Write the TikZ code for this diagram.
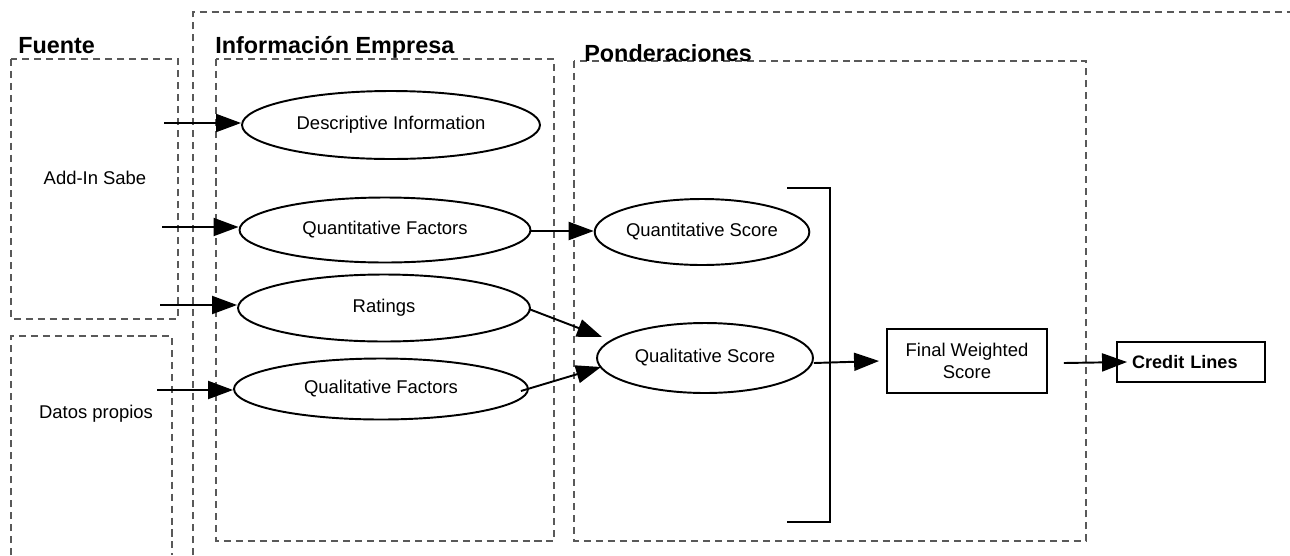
\documentclass[tikz,border=0pt]{standalone}
\usepackage{fontspec}
\setmainfont{Liberation Sans}
\usetikzlibrary{shapes.geometric,arrows.meta,calc}
\begin{document}
\begin{tikzpicture}[x=0.02cm,y=-0.02cm,
  dbox/.style={draw=black!65,line width=0.6pt,dash pattern=on 4pt off 2.8pt},
  ell/.style={ellipse,draw,line width=1.1pt,inner sep=0pt,font=\fontsize{10.5}{12}\selectfont},
  rbox/.style={rectangle,draw,line width=1.1pt,inner sep=0pt},
  lbl/.style={font=\fontsize{10.5}{12.5}\selectfont,inner sep=0pt},
  title/.style={font=\bfseries\fontsize{13.3}{15}\selectfont,inner sep=0pt,anchor=base west},
  arr/.style={line width=1.1pt,-{Triangle[length=0.5cm,width=0.36cm]}}]
\useasboundingbox (0,0) rectangle (1290,555);
% dashed frames
\draw[dbox] (193,555) -- (193,12) -- (1290,12);
\draw[dbox] (11,59) rectangle (178,319);
\draw[dbox] (11,555) -- (11,336) -- (172,336) -- (172,555);
\draw[dbox] (216,59) rectangle (554,541);
\draw[dbox] (574,61) rectangle (1086,541);
% titles
\node[title] (tf) at (18,53) {Fuente};
\node[title] (ti) at (215,53) {Información Empresa};
\node[title] (tp) at (584,61) {Ponderaciones};
% source labels
\node[lbl] (sabe) at (95,178) {Add-In Sabe};
\node[lbl] (datos) at (96,414) {Datos propios};
% ellipses
\node[ell,minimum width=5.96cm,minimum height=1.36cm] (desc) at (391,125) {\raisebox{-3pt}{Descriptive Information}};
\node[ell,minimum width=5.82cm,minimum height=1.30cm] (qf) at (385,230) {\raisebox{-3pt}{Quantitative Factors}};
\node[ell,minimum width=5.84cm,minimum height=1.34cm] (rat) at (384,308) {Ratings};
\node[ell,minimum width=5.88cm,minimum height=1.22cm] (qlf) at (381,389) {Qualitative Factors};
\node[ell,minimum width=4.06cm,minimum height=1.32cm] (qs) at (702,232) {Quantitative Score};
\node[ell,minimum width=4.32cm,minimum height=1.40cm] (qls) at (705,358) {Qualitative Score};
% boxes
\node[rbox,minimum width=3.2cm,minimum height=1.28cm,align=center,font=\fontsize{10.5}{12.5}\selectfont] (fw) at (967,361) {Final Weighted\\Score};
\node[rbox,minimum width=2.96cm,minimum height=0.8cm,font=\bfseries\fontsize{10.3}{12}\selectfont,text width=2.36cm,align=left] (cl) at (1191,362) {Credit Lines};
% bracket
\coordinate (bt) at (787,188);
\coordinate (bb) at (787,522);
\draw[line width=1.1pt] (bt) -- (830,188) -- (830,522) -- (bb);
% input arrows
\coordinate (i1) at (164,123);
\coordinate (i2) at (162,227);
\coordinate (i3) at (160,305);
\coordinate (i4) at (157,390);
\draw[arr] (i1) -- (i1 -| desc.west);
\draw[arr] (i2) -- (i2 -| qf.west);
\draw[arr] (i3) -- (i3 -| rat.west);
\draw[arr] (i4) -- (i4 -| qlf.west);
% internal arrows
\draw[arr] ($(qf.east)+(0,1)$) -- ($(qs.west)+(0,-1)$);
\draw[arr] ($(rat.east)+(-2,1)$) -- ($(qls.west)+(6,-21)$);
\draw[arr] ($(qlf.east)+(-8,2)$) -- ($(qls.west)+(5,9)$);
\draw[arr] ($(qls.east)+(0,5)$) -- ($(fw.west)+(-7,0)$);
\draw[arr] ($(fw.east)+(16,2)$) -- ($(cl.west)+(11,0)$);
\end{tikzpicture}
\end{document}
